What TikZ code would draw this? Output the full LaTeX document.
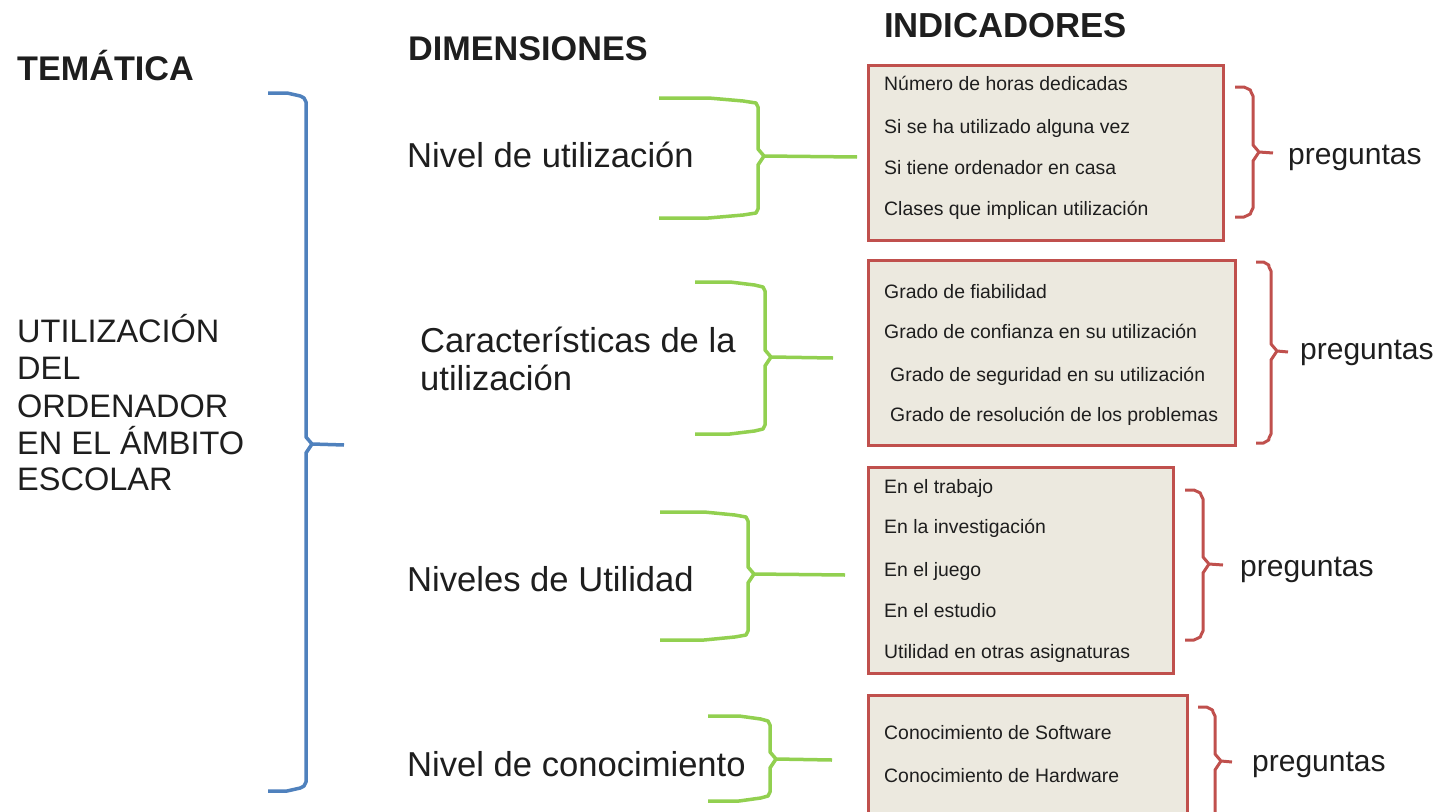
\documentclass[tikz,border=0pt]{standalone}
\usepackage{fontspec}
\setmainfont{Liberation Sans}
\definecolor{bluebr}{HTML}{4F81BD}
\definecolor{greenbr}{HTML}{92D050}
\definecolor{redbr}{HTML}{C0504D}
\definecolor{boxfill}{HTML}{ECE9DF}
\definecolor{txt}{HTML}{1E1E1E}
% #1 style, #2 xe, #3 ytop, #4 xv, #5 ymid, #6 ybot, #7 xtip
\newcommand\mybrk[7]{%
  \draw[#1,line join=round,line cap=butt] (#2,#3) -- ({#2+0.5*(#4-#2)},#3) -- ({#2+0.85*(#4-#2)},{#3+3}) -- ({#4-2},{#3+5}) -- (#4,{#3+9})
     -- (#4,{#5-8}) -- ({#4+6},{#5-1}) -- (#7,#5);
  \draw[#1,line join=round,line cap=butt] ({#4+6},{#5-1}) -- (#4,{#5+8}) -- (#4,{#6-9}) -- ({#4-2},{#6-5}) -- ({#2+0.85*(#4-#2)},{#6-3}) -- ({#2+0.5*(#4-#2)},#6) -- (#2,#6);}
\begin{document}
\begin{tikzpicture}[x=1pt,y=-1pt,
  head/.style={anchor=base west,inner sep=0pt,text=txt,font=\fontsize{34.2}{38}\selectfont\bfseries},
  big/.style={anchor=base west,inner sep=0pt,text=txt,font=\fontsize{34.6}{38}\selectfont},
  theme/.style={anchor=base west,inner sep=0pt,text=txt,font=\fontsize{32.5}{37}\selectfont},
  small/.style={anchor=base west,inner sep=0pt,text=txt,font=\fontsize{19.4}{22}\selectfont},
  preg/.style={anchor=base west,inner sep=0pt,text=txt,font=\fontsize{30}{34}\selectfont},
  indbox/.style={draw=redbr,line width=3pt,fill=boxfill},
  bluebrk/.style={draw=bluebr,line width=3.5pt},
  greenbrk/.style={draw=greenbr,line width=3.5pt},
  redbrk/.style={draw=redbr,line width=3pt}]
\useasboundingbox (0,0) rectangle (1437,811);
\clip (0,0) rectangle (1437,811);
\fill[white] (0,0) rectangle (1437,811);
% headers
\node[head] (tem) at (17,80) {TEMÁTICA};
\node[head] (dim) at (408,60) {DIMENSIONES};
\node[head,font=\fontsize{34.7}{40}\selectfont\bfseries] (ind) at (884,37) {INDICADORES};
% left theme
\node[theme] (t1) at (17,342) {UTILIZACIÓN};
\node[theme] (t2) at (17,379) {DEL};
\node[theme] (t3) at (17,417) {ORDENADOR};
\node[theme] (t4) at (17,454) {EN EL ÁMBITO};
\node[theme] (t5) at (17,490) {ESCOLAR};
% blue brace
\mybrk{bluebrk}{268}{93}{306}{445}{791}{344}
% dimensions
\node[big] (d1) at (407,167) {Nivel de utilización};
\node[big] (d2a) at (420,352) {Características de la};
\node[big] (d2b) at (420,390) {utilización};
\node[big] (d3) at (407,591) {Niveles de Utilidad};
\node[big] (d4) at (407,776) {Nivel de conocimiento};
% green braces
\mybrk{greenbrk}{659}{98}{758}{157}{218}{857}
\mybrk{greenbrk}{695}{282}{765}{358}{434}{833}
\mybrk{greenbrk}{660}{512}{748}{575}{640}{845}
\mybrk{greenbrk}{708}{716}{770}{760}{801}{832}
% boxes
\draw[indbox] (868,65) rectangle (1223,240);
\draw[indbox] (868,260) rectangle (1235,445);
\draw[indbox] (868,467) rectangle (1173,673);
\draw[indbox] (868,695) rectangle (1187,840);
% indicators
\node[small] (i11) at (884,90) {Número de horas dedicadas};
\node[small] (i12) at (884,133) {Si se ha utilizado alguna vez};
\node[small] (i13) at (884,174) {Si tiene ordenador en casa};
\node[small] (i14) at (884,215) {Clases que implican utilización};
\node[small] (i21) at (884,298) {Grado de fiabilidad};
\node[small] (i22) at (884,338) {Grado de confianza en su utilización};
\node[small] (i23) at (890,381) {Grado de seguridad en su utilización};
\node[small] (i24) at (890,421) {Grado de resolución de los problemas};
\node[small] (i31) at (884,493) {En el trabajo};
\node[small] (i32) at (884,533) {En la investigación};
\node[small] (i33) at (884,576) {En el juego};
\node[small] (i34) at (884,617) {En el estudio};
\node[small] (i35) at (884,658) {Utilidad en otras asignaturas};
\node[small] (i41) at (884,739) {Conocimiento de Software};
\node[small] (i42) at (884,782) {Conocimiento de Hardware};
% red braces
\mybrk{redbrk}{1235}{87}{1253}{153}{217}{1273}
\mybrk{redbrk}{1256}{262}{1271}{352}{443}{1288}
\mybrk{redbrk}{1185}{490}{1203}{565}{640}{1223}
\mybrk{redbrk}{1198}{707}{1215}{762}{840}{1232}
% preguntas
\node[preg] (p1) at (1288,164) {preguntas};
\node[preg] (p2) at (1300,359) {preguntas};
\node[preg] (p3) at (1240,576) {preguntas};
\node[preg] (p4) at (1252,771) {preguntas};
\end{tikzpicture}
\end{document}
